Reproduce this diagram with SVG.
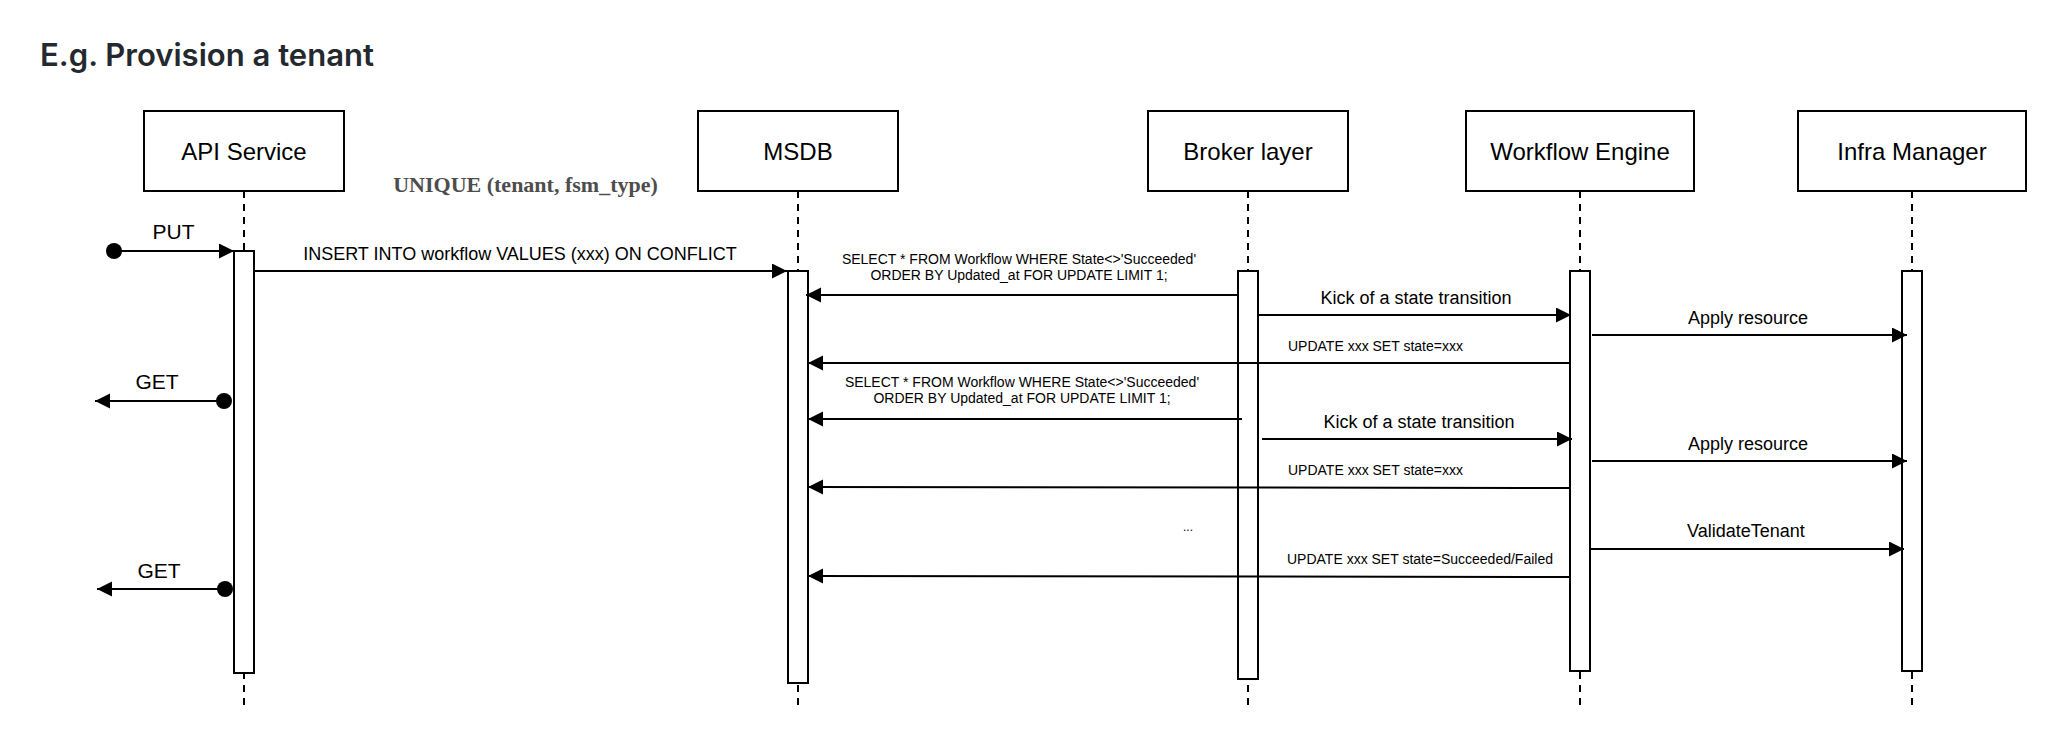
<svg xmlns="http://www.w3.org/2000/svg" width="2056" height="732" viewBox="0 0 2056 732">
<defs>
<marker id="ah" markerUnits="userSpaceOnUse" markerWidth="16" markerHeight="16" refX="15" refY="7.5" orient="auto">
<path d="M0,0 L15,7.5 L0,15 z" fill="#000"/>
</marker>
<style>
.box{fill:#fff;stroke:#000;stroke-width:2}
.act{fill:#fff;stroke:#000;stroke-width:2}
.life{stroke:#000;stroke-width:2;stroke-dasharray:7 6;fill:none}
.msg{stroke:#000;stroke-width:2;fill:none;marker-end:url(#ah)}
.dot{fill:#000}
.lbl{font-family:"Liberation Sans",Arial,Helvetica,sans-serif;fill:#000}
.name{font-size:24px;text-anchor:middle}
.big{font-size:18px}
.sm{font-size:14px}
.mid{text-anchor:middle}
</style>
</defs>
<rect width="2056" height="732" fill="#fff"/>
<text x="40" y="66" font-family="Inter,'Liberation Sans',sans-serif" font-weight="600" font-size="31" fill="#24292f" textLength="334" lengthAdjust="spacingAndGlyphs">E.g. Provision a tenant</text>
<text x="525.5" y="192" font-family="'Liberation Serif','Times New Roman',serif" font-weight="bold" font-size="22" fill="#4d4d4d" text-anchor="middle">UNIQUE (tenant, fsm_type)</text>

<g id="api-service">
<line class="life" x1="244" y1="191" x2="244" y2="710"/>
<rect class="box" x="144" y="111" width="200" height="80"/>
<text class="lbl name" x="244" y="160">API Service</text>
<rect class="act" x="234" y="251" width="20" height="422"/>
</g>
<g id="msdb">
<line class="life" x1="798" y1="191" x2="798" y2="710"/>
<rect class="box" x="698" y="111" width="200" height="80"/>
<text class="lbl name" x="798" y="160">MSDB</text>
<rect class="act" x="788" y="271" width="20" height="412"/>
</g>
<g id="broker-layer">
<line class="life" x1="1248" y1="191" x2="1248" y2="710"/>
<rect class="box" x="1148" y="111" width="200" height="80"/>
<text class="lbl name" x="1248" y="160">Broker layer</text>
<rect class="act" x="1238" y="271" width="20" height="408"/>
</g>
<g id="workflow-engine">
<line class="life" x1="1580" y1="191" x2="1580" y2="710"/>
<rect class="box" x="1466" y="111" width="228" height="80"/>
<text class="lbl name" x="1580" y="160">Workflow Engine</text>
<rect class="act" x="1570" y="271" width="20" height="400"/>
</g>
<g id="infra-manager">
<line class="life" x1="1912" y1="191" x2="1912" y2="710"/>
<rect class="box" x="1798" y="111" width="228" height="80"/>
<text class="lbl name" x="1912" y="160">Infra Manager</text>
<rect class="act" x="1902" y="271" width="20" height="400"/>
</g>

<g id="connectors">
<circle class="dot" cx="114" cy="251" r="8"/>
<line class="msg" x1="114" y1="251" x2="234" y2="251"/>
<text class="lbl mid" x="173.5" y="239" font-size="21">PUT</text>

<line class="msg" x1="254" y1="271" x2="787" y2="271"/>
<text class="lbl big mid" x="520" y="260">INSERT INTO workflow VALUES (xxx) ON CONFLICT</text>

<line class="msg" x1="1238" y1="295" x2="806" y2="295"/>
<text class="lbl sm mid" x="1019" y="264">SELECT * FROM Workflow WHERE State&lt;&gt;'Succeeded'</text>
<text class="lbl sm mid" x="1019" y="280">ORDER BY Updated_at FOR UPDATE LIMIT 1;</text>

<line class="msg" x1="1258" y1="315" x2="1571" y2="315"/>
<text class="lbl big mid" x="1416" y="304">Kick of a state transition</text>

<line class="msg" x1="1592" y1="335" x2="1907" y2="335"/>
<text class="lbl big mid" x="1748" y="324">Apply resource</text>

<line class="msg" x1="1570" y1="363" x2="808" y2="363"/>
<text class="lbl sm" x="1288" y="350.5">UPDATE xxx SET state=xxx</text>

<circle class="dot" cx="224" cy="401" r="8"/>
<line class="msg" x1="224" y1="401" x2="95" y2="401"/>
<text class="lbl mid" x="157" y="389" font-size="21">GET</text>

<line class="msg" x1="1242" y1="419" x2="808" y2="419"/>
<text class="lbl sm mid" x="1022" y="387">SELECT * FROM Workflow WHERE State&lt;&gt;'Succeeded'</text>
<text class="lbl sm mid" x="1022" y="403">ORDER BY Updated_at FOR UPDATE LIMIT 1;</text>

<line class="msg" x1="1262" y1="439" x2="1572" y2="439"/>
<text class="lbl big mid" x="1419" y="428">Kick of a state transition</text>

<line class="msg" x1="1592" y1="461" x2="1907" y2="461"/>
<text class="lbl big mid" x="1748" y="450">Apply resource</text>

<line class="msg" x1="1570" y1="488" x2="808" y2="487"/>
<text class="lbl sm" x="1288" y="475">UPDATE xxx SET state=xxx</text>

<text class="lbl mid" x="1188" y="531" font-size="12">...</text>

<line class="msg" x1="1590" y1="549" x2="1904" y2="549"/>
<text class="lbl big mid" x="1746" y="537">ValidateTenant</text>

<line class="msg" x1="1570" y1="577" x2="808" y2="576"/>
<text class="lbl sm" x="1287" y="564">UPDATE xxx SET state=Succeeded/Failed</text>

<circle class="dot" cx="225" cy="589" r="8"/>
<line class="msg" x1="225" y1="589" x2="97" y2="589"/>
<text class="lbl mid" x="159" y="578" font-size="21">GET</text>
</g>
</svg>
